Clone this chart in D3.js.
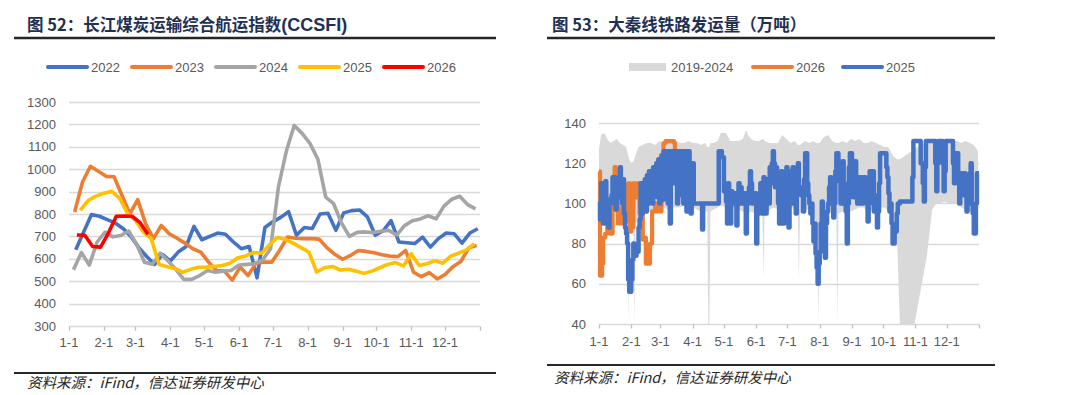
<!DOCTYPE html>
<html>
<head>
<meta charset="utf-8">
<script src="https://cdn.jsdelivr.net/npm/d3@7"></script>
<style>
  body { margin: 0; background: #fff; }
  svg { display: block; font-family: "Liberation Sans", Arial, sans-serif; }
</style>
</head>
<body>
<svg id="chart" width="1080" height="395"></svg>
<script>
// shared month labels (both charts use a Jan-1 .. Dec-31 axis)
var monthLabels = ["1-1", "2-1", "3-1", "4-1", "5-1", "6-1", "7-1", "8-1", "9-1", "10-1", "11-1", "12-1"];

// ---- chart 52: CCSFI, weekly values; first point's day-of-year per year
var ccsfiYears = ["2022", "2023", "2024", "2025", "2026"];
var ccsfiStartDay = [6, 5, 4, 10, 7];
var ccsfi2022 = [640, 720, 798, 790, 775, 760, 735, 700, 650, 610, 575, 620, 590, 630, 655, 745, 685, 700, 715, 710,
  675, 645, 655, 515, 740, 765, 785, 810, 705, 740, 735, 800, 803, 727, 805, 815, 818, 787, 705, 725,
  770, 675, 672, 668, 697, 652, 690, 715, 712, 670, 715, 734];
var ccsfi2023 = [809, 943, 1013, 991, 968, 966, 884, 801, 864, 757, 690, 749, 712, 692, 670, 645, 630, 585, 548, 545,
  505, 563, 525, 580, 585, 585, 637, 697, 692, 690, 690, 688, 650, 620, 598, 615, 637, 633, 627, 618,
  612, 610, 637, 540, 520, 538, 510, 530, 565, 588, 648, 660];
var ccsfi2024 = [551, 628, 572, 675, 719, 698, 704, 724, 665, 585, 576, 625, 590, 552, 508, 508, 525, 548, 540, 545,
  548, 572, 575, 578, 595, 645, 921, 1080, 1195, 1160, 1115, 1045, 875, 846, 760, 700, 718, 720, 717, 723,
  727, 706, 748, 770, 778, 792, 778, 835, 866, 879, 842, 823];
var ccsfi2025 = [816, 860, 880, 893, 901, 870, 803, 772, 720, 690, 575, 565, 557, 540, 553, 562, 563, 566, 570, 580,
  605, 613, 628, 625, 662, 695, 687, 670, 650, 630, 541, 560, 566, 550, 553, 545, 535, 545, 560, 575,
  583, 568, 622, 570, 578, 592, 580, 612, 625, 640, 667];
var ccsfi2026 = [706, 705, 655, 652, 715, 790, 791, 790, 762, 710];
var ccsfiColors = ["#4472c4", "#ed7d31", "#a5a5a5", "#ffc000", "#ff0000"];
var ccsfiTicks = [300, 400, 500, 600, 700, 800, 900, 1000, 1100, 1200, 1300];

// ---- chart 53: Daqin line shipments (10k t)
// 2019-2024 range: [day-of-year, high, low]
var daqinRange = [[0, 127, 97], [2, 134, 95], [5, 135, 95], [8, 132, 94], [11, 130, 95], [14, 131, 96], [17, 132, 95],
  [20, 130, 95], [23, 129, 95], [26, 128, 94], [27, 126, 94], [28, 124, 40], [29, 122, 92], [31, 120, 90], [33, 121, 90],
  [34, 122, 40], [35, 124, 90], [38, 128, 92], [42, 129, 95], [46, 130, 96], [50, 130, 96], [54, 129, 97], [58, 131, 97],
  [62, 130, 98], [66, 132, 97], [70, 131, 98], [74, 131, 98], [78, 130, 98], [82, 130, 99], [86, 131, 99], [90, 130, 98],
  [94, 130, 97], [98, 129, 96], [102, 130, 96], [104, 128, 96], [105, 128, 40], [106, 128, 40], [107, 130, 96],
  [110, 130, 97], [114, 131, 98], [117, 135, 99], [122, 135, 98], [126, 131, 98], [130, 131, 98], [134, 131, 97],
  [138, 132, 96], [141, 136, 95], [142, 136, 82], [143, 134, 95], [146, 132, 96], [150, 131, 95], [154, 131, 96],
  [157, 132, 96], [158, 132, 62], [159, 131, 95], [164, 130, 97], [168, 130, 98], [172, 130, 97], [176, 134, 98],
  [180, 132, 98], [184, 130, 98], [188, 131, 97], [191, 129, 95], [192, 129, 62], [193, 129, 95], [198, 131, 97],
  [202, 130, 97], [206, 131, 94], [209, 130, 90], [210, 130, 80], [211, 130, 40], [212, 130, 88], [216, 133, 92],
  [220, 134, 94], [224, 131, 96], [228, 130, 95], [229, 130, 40], [230, 130, 95], [234, 131, 96], [238, 130, 95],
  [242, 132, 96], [246, 131, 97], [250, 132, 98], [254, 130, 98], [258, 130, 96], [262, 131, 97], [266, 130, 98],
  [270, 129, 98], [274, 128, 98], [278, 128, 96], [282, 124, 92], [286, 122, 88], [289, 122, 40], [303, 127, 40],
  [309, 129, 57], [315, 130, 74], [320, 131, 97], [324, 132, 100], [328, 131, 100], [332, 131, 101], [336, 131, 100],
  [340, 131, 100], [344, 131, 100], [348, 130, 98], [352, 131, 97], [356, 130, 96], [360, 129, 96], [364, 126, 96]];

// 2025 daily series as [day-of-year, value] change points (value holds until next point)
var daqin2025 = [[0, 101], [1, 92], [2, 110], [3, 100], [4, 90], [5, 104], [6, 111], [7, 90], [8, 97], [9, 88], [10, 102],
  [12, 104], [13, 113], [14, 100], [15, 113], [16, 97], [17, 103], [19, 112], [20, 118], [21, 105], [22, 100], [23, 112],
  [24, 95], [25, 88], [26, 85], [27, 80], [28, 62], [29, 56], [31, 62], [32, 72], [33, 80], [34, 74], [36, 76], [38, 88],
  [39, 92], [40, 110], [41, 95], [42, 108], [43, 100], [44, 112], [45, 96], [46, 114], [47, 100], [48, 116], [49, 102],
  [50, 110], [51, 100], [52, 118], [53, 104], [54, 115], [55, 120], [56, 103], [57, 122], [58, 100], [59, 116], [60, 124],
  [61, 102], [62, 126], [64, 104], [65, 126], [66, 100], [67, 126], [68, 90], [69, 120], [70, 126], [72, 110], [73, 126],
  [75, 100], [76, 126], [78, 104], [79, 126], [81, 100], [82, 126], [84, 96], [85, 126], [87, 110], [88, 95], [89, 102],
  [90, 120], [91, 100], [99, 87], [100, 100], [115, 126], [118, 123], [120, 106], [121, 110], [122, 101], [123, 90],
  [124, 110], [125, 104], [126, 90], [127, 106], [128, 100], [129, 105], [131, 100], [132, 89], [133, 104], [134, 110],
  [135, 100], [136, 108], [137, 100], [139, 105], [141, 85], [142, 100], [144, 108], [145, 116], [146, 110], [147, 100],
  [149, 105], [151, 80], [152, 95], [154, 100], [155, 110], [156, 95], [157, 108], [158, 113], [159, 100], [160, 95],
  [161, 112], [162, 100], [164, 118], [165, 110], [166, 120], [167, 126], [168, 120], [169, 108], [170, 118], [171, 110],
  [172, 100], [173, 90], [174, 108], [175, 116], [176, 100], [177, 90], [178, 112], [179, 95], [180, 118], [181, 104],
  [182, 88], [183, 110], [184, 116], [185, 100], [186, 118], [187, 100], [188, 104], [189, 95], [190, 110], [191, 120],
  [192, 108], [194, 104], [196, 96], [197, 112], [198, 125], [200, 110], [201, 104], [202, 100], [203, 95], [204, 100],
  [205, 90], [206, 81], [207, 90], [208, 75], [209, 68], [210, 60], [211, 70], [212, 76], [213, 90], [214, 101], [215, 95],
  [216, 85], [217, 73], [218, 90], [219, 96], [220, 100], [221, 108], [222, 113], [223, 100], [224, 110], [225, 93],
  [226, 100], [227, 116], [228, 125], [230, 120], [231, 111], [232, 100], [233, 118], [234, 121], [235, 110], [236, 100],
  [237, 96], [238, 80], [239, 100], [240, 118], [241, 125], [243, 110], [244, 103], [246, 121], [247, 106], [248, 100],
  [250, 113], [252, 100], [254, 113], [256, 104], [258, 91], [259, 100], [260, 116], [262, 110], [263, 116], [264, 96],
  [265, 104], [266, 100], [267, 88], [268, 96], [269, 110], [270, 125], [276, 118], [277, 113], [278, 105], [279, 96],
  [280, 100], [281, 90], [282, 80], [284, 86], [286, 95], [287, 100], [289, 101], [301, 113], [302, 131], [309, 120],
  [311, 110], [312, 101], [313, 118], [314, 131], [323, 120], [324, 106], [325, 120], [326, 131], [330, 120], [331, 106],
  [332, 116], [333, 131], [340, 120], [341, 110], [342, 118], [343, 125], [345, 110], [346, 100], [347, 108], [348, 115],
  [349, 112], [350, 104], [351, 115], [352, 110], [353, 96], [354, 100], [355, 108], [356, 115], [357, 120], [358, 100],
  [359, 95], [360, 85], [362, 100], [363, 115], [365, 115]];

// 2026 so far
var daqin2026 = [[0, 116], [1, 64], [3, 70], [4, 83], [6, 85], [8, 90], [10, 95], [11, 85], [13, 100], [14, 113], [15, 118],
  [16, 113], [18, 90], [20, 90], [22, 98], [25, 91], [27, 100], [28, 110], [30, 86], [31, 88], [33, 110], [35, 103],
  [37, 110], [39, 95], [41, 96], [42, 82], [44, 83], [45, 70], [47, 70], [49, 80], [51, 96], [54, 100], [57, 96],
  [60, 101], [61, 110], [62, 130], [64, 131], [67, 131], [70, 131], [72, 130], [73, 126]];
var daqinTicks = [40, 60, 80, 100, 120, 140];

var svg = d3.select("#chart");
var gridColor = "#d9d9d9";
var textColor = "#595959";

var yearStart = new Date(2023, 0, 1);
function dayDate(d) { return d3.timeDay.offset(yearStart, d); }
var monthDates = d3.range(12).map(function (m) { return new Date(2023, m, 1); });
var tickDates = monthDates.concat([new Date(2024, 0, 1)]);

function header(x0, x1, tx, title, latin) {
  var t = svg.append("text")
    .attr("x", tx).attr("y", 31)
    .style("font-family", "'Noto Sans CJK SC', sans-serif")
    .style("font-weight", 700)
    .style("font-size", "16.5px")
    .style("fill", "#1f3055");
  t.append("tspan").text(title);
  if (latin) {
    t.append("tspan")
      .style("font-family", "'Liberation Sans', Arial, sans-serif")
      .style("font-size", "18px")
      .text(latin);
  }
  svg.append("line")
    .attr("x1", x0).attr("x2", x1).attr("y1", 38).attr("y2", 38)
    .style("stroke", "#262626").style("stroke-width", 2.5);
}

function footer(x0, x1, ly, tx, ty) {
  svg.append("line")
    .attr("x1", x0).attr("x2", x1).attr("y1", ly).attr("y2", ly)
    .style("stroke", "#262626").style("stroke-width", 2);
  svg.append("text")
    .attr("x", tx).attr("y", ty)
    .style("font-family", "'Noto Sans CJK SC', sans-serif")
    .style("font-style", "italic")
    .style("font-size", "14.5px")
    .style("fill", "#262626")
    .text("资料来源：iFind，信达证券研发中心");
}

function frame(x, y, ticks, labelX, labelY) {
  var g = svg.append("g");
  g.selectAll(".grid").data(ticks).enter().append("line")
    .attr("x1", x.range()[0]).attr("x2", x.range()[1])
    .attr("y1", function (d) { return Math.round(y(d)) + 0.5; })
    .attr("y2", function (d) { return Math.round(y(d)) + 0.5; })
    .style("stroke", gridColor).style("stroke-width", 1.3);
  g.selectAll(".ylab").data(ticks).enter().append("text")
    .attr("x", labelX).attr("y", function (d) { return y(d) + 4.5; })
    .style("text-anchor", "end").style("font-size", "13px").style("fill", textColor)
    .text(function (d) { return d; });
  var yb = Math.round(y.range()[0]) + 0.5;
  g.selectAll(".xtick").data(tickDates).enter().append("line")
    .attr("x1", function (d) { return Math.round(x(d)) + 0.5; })
    .attr("x2", function (d) { return Math.round(x(d)) + 0.5; })
    .attr("y1", yb).attr("y2", yb + 4)
    .style("stroke", "#bfbfbf").style("stroke-width", 1.3);
  g.selectAll(".xlab").data(monthDates).enter().append("text")
    .attr("x", function (d) { return x(d); }).attr("y", labelY)
    .style("text-anchor", "middle").style("font-size", "13px").style("fill", textColor)
    .text(function (d, i) { return monthLabels[i]; });
}

function legendLine(x, y, color, label) {
  svg.append("line")
    .attr("x1", x).attr("x2", x + 39).attr("y1", y).attr("y2", y)
    .style("stroke", color).style("stroke-width", 4).style("stroke-linecap", "round");
  svg.append("text")
    .attr("x", x + 43).attr("y", y + 4.5)
    .style("font-size", "13px").style("fill", textColor)
    .text(label);
}

// ================= chart 52 =================
header(14, 496, 27, "图 52：长江煤炭运输综合航运指数", "(CCSFI)");

var x1 = d3.scaleTime().domain([yearStart, new Date(2024, 0, 1)]).range([69, 480]);
var y1 = d3.scaleLinear().domain([300, 1300]).range([326, 102]);
frame(x1, y1, ccsfiTicks, 56, 347);

var ccsfiSeries = [ccsfi2022, ccsfi2023, ccsfi2024, ccsfi2025, ccsfi2026];
var weekLine = d3.line()
  .x(function (d) { return x1(dayDate(d.day)); })
  .y(function (d) { return y1(d.v); });

ccsfiSeries.forEach(function (vals, k) {
  var pts = vals.map(function (v, i) { return { day: ccsfiStartDay[k] + 7 * i, v: v }; });
  svg.append("path")
    .datum(pts)
    .attr("d", weekLine)
    .style("fill", "none")
    .style("stroke", ccsfiColors[k])
    .style("stroke-width", 3.6)
    .style("stroke-linejoin", "round");
});

var legX1 = [48, 132, 216, 300, 384];
ccsfiYears.forEach(function (yr, k) { legendLine(legX1[k], 67, ccsfiColors[k], yr); });

footer(14, 496, 373, 27, 388);

// ================= chart 53 =================
header(547, 995, 552, "图 53：大秦线铁路发运量（万吨）");

var x2 = d3.scaleTime().domain([yearStart, new Date(2024, 0, 1)]).range([599, 979]);
var y2 = d3.scaleLinear().domain([40, 140]).range([324, 123]);
frame(x2, y2, daqinTicks, 586, 346);

svg.append("path")
  .datum(daqinRange)
  .attr("d", d3.area()
    .x(function (d) { return x2(dayDate(d[0])); })
    .y0(function (d) { return y2(d[2]); })
    .y1(function (d) { return y2(d[1]); }))
  .style("fill", "#d9d9d9");

var dayLine = d3.line()
  .curve(d3.curveStepAfter)
  .x(function (d) { return x2(dayDate(d[0])); })
  .y(function (d) { return y2(d[1]); });

svg.append("path")
  .datum(daqin2026)
  .attr("d", dayLine)
  .style("fill", "none").style("stroke", "#ed7d31").style("stroke-width", 4.2)
  .style("stroke-linejoin", "round");

svg.append("path")
  .datum(daqin2025)
  .attr("d", dayLine)
  .style("fill", "none").style("stroke", "#4472c4").style("stroke-width", 4.5)
  .style("stroke-linejoin", "round");

// legend
svg.append("rect").attr("x", 629).attr("y", 63).attr("width", 37).attr("height", 8).style("fill", "#d9d9d9");
svg.append("text").attr("x", 671).attr("y", 71.5)
  .style("font-size", "13px").style("fill", textColor).text("2019-2024");
legendLine(753, 67, "#ed7d31", "2026");
legendLine(843, 67, "#4472c4", "2025");

footer(547, 995, 365, 554, 383);
</script>
</body>
</html>
